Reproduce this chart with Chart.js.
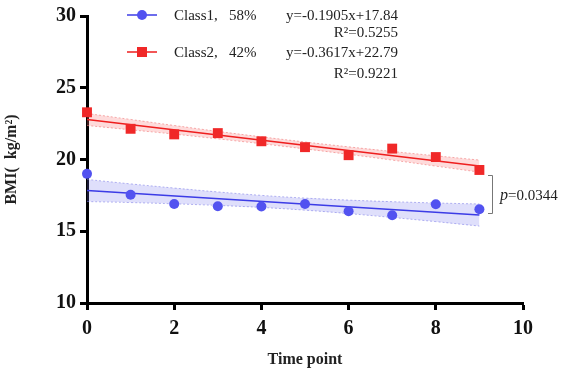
<!DOCTYPE html>
<html>
<head>
<meta charset="utf-8">
<script src="https://cdn.jsdelivr.net/npm/chart.js@4.4.1/dist/chart.umd.min.js"></script>
<style>
html,body{margin:0;padding:0;background:#fff;}
#wrap{width:567px;height:375px;position:relative;}
</style>
</head>
<body>
<div id="wrap"><canvas id="c" width="567" height="375"></canvas></div>
<script>
// ---- data ----
const timePoints = [0, 1, 2, 3, 4, 5, 6, 7, 8, 9];
const class1BMI = [19.0, 17.54, 16.9, 16.74, 16.72, 16.9, 16.39, 16.12, 16.88, 16.53];
const class2BMI = [23.29, 22.14, 21.75, 21.84, 21.27, 20.86, 20.3, 20.76, 20.17, 19.27];
const fitX = [0, 9];
const class1Fit = [17.84, 16.13];
const class2Fit = [22.79, 19.54];
const class1Upper = [18.61, 18.30, 18.01, 17.74, 17.50, 17.31, 17.17, 17.06, 16.97, 16.90];
const class1Lower = [17.07, 17.00, 16.91, 16.80, 16.66, 16.47, 16.23, 15.96, 15.67, 15.36];
const class2Upper = [23.21, 22.79, 22.37, 21.96, 21.58, 21.22, 20.88, 20.56, 20.26, 19.96];
const class2Lower = [22.37, 22.07, 21.77, 21.44, 21.10, 20.74, 20.36, 19.96, 19.54, 19.12];
const seriesNames = ['Class1,\u2002 58%', 'Class2,\u2002 42%'];
const equations = ['y=-0.1905x+17.84', 'y=-0.3617x+22.79'];
const rSquared = ['R²=0.5255', 'R²=0.9221'];
const pValueText = '=0.0344';
const xTicks = [0, 2, 4, 6, 8, 10];
const yTicks = [10, 15, 20, 25, 30];

const BLUE = 'rgb(82,82,240)';
const BLUE_LINE = 'rgb(60,60,230)';
const RED = 'rgb(240,40,40)';
const RED_LINE = 'rgb(238,30,30)';

const pts = (xs, ys) => xs.map((x, i) => ({x: x, y: ys[i]}));

const datasets = [
  {label: seriesNames[0], data: pts(timePoints, class1BMI), showLine: false, pointStyle: 'circle', pointRadius: 5, pointBackgroundColor: BLUE, pointBorderWidth: 0, borderColor: BLUE, clip: false},
  {label: seriesNames[1], data: pts(timePoints, class2BMI), showLine: false, pointStyle: 'rect', pointRadius: 7, pointBackgroundColor: RED, pointBorderWidth: 0, borderColor: RED, clip: false},
  {label: 'fit1', data: pts(fitX, class1Fit), showLine: true, pointRadius: 0, borderColor: BLUE_LINE, borderWidth: 1.5, fill: false},
  {label: 'fit2', data: pts(fitX, class2Fit), showLine: true, pointRadius: 0, borderColor: RED_LINE, borderWidth: 1.5, fill: false},
  {label: 'b1u', data: pts(timePoints, class1Upper), showLine: true, pointRadius: 0, borderColor: 'rgba(120,120,230,0.55)', borderWidth: 1, borderDash: [2, 2], tension: 0.4, fill: '+1', backgroundColor: 'rgba(110,110,235,0.22)'},
  {label: 'b1l', data: pts(timePoints, class1Lower), showLine: true, pointRadius: 0, borderColor: 'rgba(120,120,230,0.55)', borderWidth: 1, borderDash: [2, 2], tension: 0.4, fill: false},
  {label: 'b2u', data: pts(timePoints, class2Upper), showLine: true, pointRadius: 0, borderColor: 'rgba(240,120,120,0.6)', borderWidth: 1, borderDash: [2, 2], tension: 0.4, fill: '+1', backgroundColor: 'rgba(250,110,110,0.25)'},
  {label: 'b2l', data: pts(timePoints, class2Lower), showLine: true, pointRadius: 0, borderColor: 'rgba(240,120,120,0.6)', borderWidth: 1, borderDash: [2, 2], tension: 0.4, fill: false}
];

const SERIF = '"Liberation Serif", "Times New Roman", serif';

const annot = {
  id: 'annot',
  afterDraw(chart) {
    const ctx = chart.ctx;
    ctx.save();
    // legend
    const rows = [15, 52];
    ctx.font = '15px ' + SERIF;
    ctx.textBaseline = 'middle';
    for (let i = 0; i < 2; i++) {
      const y = rows[i];
      ctx.strokeStyle = i === 0 ? BLUE_LINE : RED_LINE;
      ctx.lineWidth = 1.5;
      ctx.beginPath(); ctx.moveTo(127, y); ctx.lineTo(157, y); ctx.stroke();
      ctx.fillStyle = i === 0 ? BLUE : RED;
      if (i === 0) { ctx.beginPath(); ctx.arc(142, y, 5, 0, Math.PI * 2); ctx.fill(); }
      else { ctx.fillRect(137, y - 5, 10, 10); }
      ctx.fillStyle = '#222';
      ctx.textAlign = 'left';
      ctx.fillText(seriesNames[i], 174, y + 1);
      ctx.textAlign = 'right';
      ctx.fillText(equations[i], 398, y + 1);
    }
    ctx.textAlign = 'right';
    ctx.fillText(rSquared[0], 398, 33);
    ctx.fillText(rSquared[1], 398, 74);
    // p-value bracket
    ctx.strokeStyle = '#777';
    ctx.lineWidth = 1;
    ctx.beginPath();
    ctx.moveTo(488, 175.5); ctx.lineTo(492.5, 175.5); ctx.lineTo(492.5, 213.5); ctx.lineTo(488, 213.5);
    ctx.stroke();
    ctx.fillStyle = '#222';
    ctx.textAlign = 'left';
    ctx.font = 'italic 16px ' + SERIF;
    ctx.fillText('p', 500, 196);
    const pw = ctx.measureText('p').width;
    ctx.font = '15px ' + SERIF;
    ctx.fillText(pValueText, 500 + pw, 196);
    ctx.restore();
  }
};

new Chart(document.getElementById('c'), {
  type: 'scatter',
  data: {datasets: datasets},
  options: {
    responsive: false,
    animation: false,
    devicePixelRatio: 1,
    layout: {padding: {top: 13, right: 44, left: 0, bottom: 0}},
    plugins: {legend: {display: false}, tooltip: {enabled: false}},
    scales: {
      x: {
        type: 'linear', min: 0, max: 10,
        afterBuildTicks(s) { s.ticks = xTicks.map(v => ({value: v})); },
        afterFit(s) { s.height = 72; },
        grid: {display: true, drawOnChartArea: false, drawTicks: true, tickLength: 7, tickWidth: 3, tickColor: '#000'},
        border: {display: true, color: '#000', width: 3},
        ticks: {color: '#111', font: {family: SERIF, size: 20, weight: 'bold'}, padding: 7, maxRotation: 0},
        title: {display: true, text: 'Time point', color: '#222', font: {family: SERIF, size: 16, weight: 'bold'}, padding: {top: 0, bottom: 6}}
      },
      y: {
        type: 'linear', min: 10, max: 30,
        afterBuildTicks(s) { s.ticks = yTicks.map(v => ({value: v})); },
        afterFit(s) { s.width = 87; },
        grid: {display: true, drawOnChartArea: false, drawTicks: true, tickLength: 7, tickWidth: 3, tickColor: '#000'},
        border: {display: true, color: '#000', width: 3},
        ticks: {color: '#111', font: {family: SERIF, size: 20, weight: 'bold'}, padding: 4},
        title: {display: true, text: 'BMI(  kg/m²)', color: '#222', font: {family: SERIF, size: 16, weight: 'bold'}, padding: {top: 2, bottom: 0}}
      }
    }
  },
  plugins: [annot]
});
</script>
</body>
</html>
